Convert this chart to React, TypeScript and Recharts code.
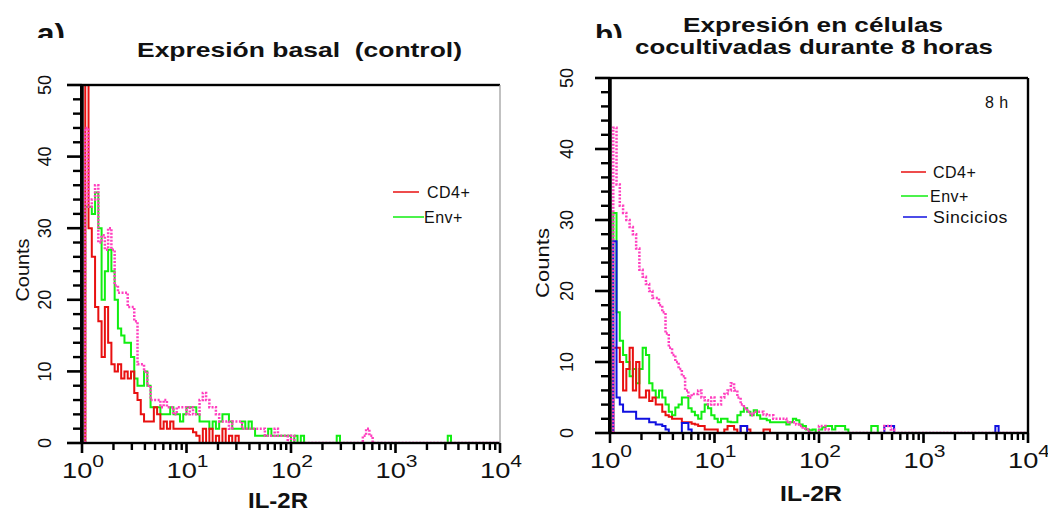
import React from "react";
import { LineChart, Line, XAxis, YAxis, ReferenceLine } from "recharts";

// flow cytometry histograms, 32 channels per decade, channel 0 = 10^0
const CH_PER_DECADE = 32;
const N_CH = 128;

// panel a) basal expression
const cd4A = [0, 50, 30, 26, 19, 17, 12, 19, 14, 11, 10, 11, 9, 10, 9, 10, 7, 6, 4, 3, 3, 3, 5, 4, 2, 3, 2, 3, 2, 2, 2, 2, 2, 2, 1.5, 1, 0, 2, 0, 2, 0, 1, 0, 2, 0, 1, 0, 1, 0];
const envA = [0, 33, 33, 32, 35, 30, 20, 24, 27, 24, 20, 16, 15, 14, 14, 12, 9, 8, 8, 10, 8, 5, 5, 5, 4, 4, 4, 5, 4, 4, 3, 4, 5, 5, 5, 4, 3, 3, 3, 2, 3, 2, 3, 4, 4, 3, 2, 2, 2, 3, 2, 3, 2, 1, 1, 1, 1, 2, 1, 1, 1, 1, 1, 1, 0, 1, 0, 1, 0];
const ctrlA = [0, 44, 33, 34, 36, 28, 29, 27, 30, 27, 22, 21, 21, 21, 19, 19, 17, 11, 11, 10, 8, 6, 6, 6, 5, 6, 5, 5, 4, 5, 5, 5, 4, 5, 4, 4, 6, 7, 6, 5, 5, 4, 3, 3, 3, 2, 3, 3, 3, 2, 2, 2, 2, 2, 2, 2, 1, 1, 1, 2, 1, 1, 1, 0, 1, 0];
const envATail = [[78, 1], [112, 1]];
const ctrlATail = [[86, 1], [87, 2], [88, 1]];

// panel b) 8 h co-culture
const cd4B = [0, 12, 12, 10, 6, 9, 12, 6, 10, 5, 5, 6, 4.5, 5, 4, 4, 3, 2.5, 2.3, 2, 2, 2, 1.5, 1.5, 1.5, 1.3, 1.2, 1, 1, 0.5, 0.5, 0.5, 0.5, 0, 0, 0.5, 1, 1, 0.5, 0, 1, 1, 0.5, 0, 0, 0, 0, 0.5, 0.5, 0];
const envB = [0, 31, 17, 13, 11, 10, 8, 9, 7, 9, 12, 11, 7, 6, 5, 6, 5, 4, 3, 2.5, 3.6, 4, 5, 5, 3.5, 3, 2.5, 2, 3, 4, 3.5, 2.5, 2, 1.5, 2, 2, 1.6, 1.5, 1.5, 2.5, 3, 3.5, 3, 2.5, 3.2, 2.5, 2, 2, 1.8, 1.5, 1.5, 1.5, 1.5, 1.5, 1.2, 1.5, 2, 1.8, 1.2, 1, 0.5, 0.4, 0.5, 0, 0.5, 0.8, 1, 1, 0.5, 1, 1, 1, 0.5];
const sincB = [0, 27, 5, 4, 3, 3, 3, 3, 2, 2, 2, 2, 1.5, 1.5, 1.2, 1.2, 1, 0.5, 0, 0, 0, 0, 1.4, 1.4, 0.5, 0];
const ctrlB = [0, 43, 35, 32, 31, 30, 29, 28, 26, 23, 22, 21, 20, 19, 19, 18, 17, 14, 12, 11, 10, 9, 8, 6, 5, 5.5, 5.5, 6, 5, 4.6, 4, 5, 4, 4, 5, 5.5, 6, 7, 6, 5, 4, 3.5, 3, 2.5, 3, 3, 3, 2.6, 2.5, 2.5, 2, 2, 2, 2, 1.6, 1.5, 1.5, 1.2, 1, 0.6, 0.5, 0, 0, 0, 1, 1, 0.5, 0];
const envBTail = [[80, 1], [81, 1]];
const sincBTail = [[40, 1], [41, 1], [84, 1], [85, 1], [86, 1], [118, 1]];
const ctrlBTail = [[84, 1], [85, 1], [86, 0.5]];

const Y_MAJOR = [0, 10, 20, 30, 40, 50];
const Y_MINOR = [2, 4, 6, 8, 12, 14, 16, 18, 22, 24, 26, 28, 32, 34, 36, 38, 42, 44, 46, 48];
const X_MAJOR = [1, 10, 100, 1000, 10000];
const X_MINOR = [1, 10, 100, 1000].flatMap((d) => [2, 3, 4, 5, 6, 7, 8, 9].map((m) => m * d));

const RED = "#e81010";
const GREEN = "#11ee11";
const BLUE = "#1010e0";
const PINK = "#ff3fbf";
const FONT = "'Liberation Sans', Arial, sans-serif";

// plot boxes in page pixels
const PLOT_A = { left: 82, right: 500, top: 85, bottom: 443 };
const PLOT_B = { left: 610, right: 1028, top: 78, bottom: 433 };

type Series = { key: string; counts: number[]; tail?: number[][] };

function buildRows(series: Series[]) {
  const rows: Record<string, number>[] = [];
  for (let ch = 0; ch <= N_CH; ch++) {
    const row: Record<string, number> = { x: Math.pow(10, ch / CH_PER_DECADE) };
    series.forEach((s) => {
      let v = s.counts[ch];
      if (v === undefined) {
        const hit = (s.tail || []).find((t) => t[0] === ch);
        v = hit ? hit[1] : 0;
      }
      row[s.key] = v;
    });
    rows.push(row);
  }
  return rows;
}

const dataA = buildRows([
  { key: "cd4", counts: cd4A },
  { key: "env", counts: envA, tail: envATail },
  { key: "ctrl", counts: ctrlA, tail: ctrlATail },
]);
const dataB = buildRows([
  { key: "cd4", counts: cd4B },
  { key: "env", counts: envB, tail: envBTail },
  { key: "sinc", counts: sincB, tail: sincBTail },
  { key: "ctrl", counts: ctrlB, tail: ctrlBTail },
]);

function XTick(props: any) {
  const { x, y, payload } = props;
  const e = Math.log10(payload.value);
  return (
    <text
      x={Number(x) + 1}
      y={Number(y) + 35}
      textAnchor="middle"
      fontSize={22}
      fontFamily={FONT}
      fill="#111"
      textLength={42}
      lengthAdjust="spacingAndGlyphs"
    >
      10
      <tspan dy={-11} fontSize={17}>{Math.round(e)}</tspan>
    </text>
  );
}

function YTick(props: any) {
  const { x, y, payload, off } = props;
  return (
    <text
      transform={`translate(${Number(x) - off},${y}) rotate(-90)`}
      textAnchor="middle"
      dominantBaseline="central"
      fontSize={18}
      fontFamily={FONT}
      fill="#111"
    >
      {payload.value}
    </text>
  );
}

// axis frame + tick marks as filled bars (same mapping as the log / linear axes)
function Frame({ box, rightColor }: { box: typeof PLOT_A; rightColor: string }) {
  const w = box.right - box.left;
  const h = box.bottom - box.top;
  const px = (v: number) => box.left + (w * Math.log10(v)) / 4;
  const py = (c: number) => box.bottom - (h * c) / 50;
  return (
    <g fill="#000">
      {X_MAJOR.map((v) => (
        <rect key={`xM${v}`} x={px(v) - 1.3} y={box.bottom} width={2.6} height={10} />
      ))}
      {X_MINOR.map((v) => (
        <rect key={`xm${v}`} x={px(v) - 1.2} y={box.bottom} width={2.4} height={7} />
      ))}
      {Y_MAJOR.map((v) => (
        <rect key={`yM${v}`} x={box.left - 15} y={py(v) - 1.3} width={15} height={2.6} />
      ))}
      {Y_MINOR.map((v) => (
        <rect key={`ym${v}`} x={box.left - 9} y={py(v) - 1.2} width={9} height={2.4} />
      ))}
      <rect x={box.left - 2} y={box.top - 1} width={3.5} height={h + 2} />
      <rect x={box.left} y={box.bottom - 1.2} width={w} height={2.4} />
      <rect x={box.left} y={box.top - 1.2} width={w} height={2.4} />
      <rect
        x={box.right - (rightColor === "#000" ? 1.2 : 0.6)}
        y={box.top}
        width={rightColor === "#000" ? 2.4 : 1.2}
        height={h}
        fill={rightColor}
      />
    </g>
  );
}

function Panel({ data, box, left, width, tickOff, withSinc }: any) {
  return (
    <div style={{ position: "absolute", left, top: 0 }}>
      <LineChart
        width={width}
        height={513}
        data={data}
        margin={{
          top: box.top,
          right: left + width - box.right,
          bottom: 513 - box.bottom - 70,
          left: box.left - left - 60,
        }}
      >
        <XAxis
          dataKey="x"
          type="number"
          scale="log"
          domain={[1, 10000]}
          allowDataOverflow
          ticks={X_MAJOR}
          interval={0}
          tickSize={0}
          tickMargin={0}
          tickLine={false}
          height={70}
          axisLine={{ stroke: "#000", strokeWidth: 2 }}
          tick={(p: any) => <XTick {...p} />}
        />
        <YAxis
          type="number"
          domain={[0, 50]}
          allowDataOverflow
          ticks={Y_MAJOR}
          interval={0}
          tickSize={0}
          tickMargin={0}
          tickLine={false}
          width={60}
          axisLine={{ stroke: "#000", strokeWidth: 3 }}
          tick={(p: any) => <YTick {...p} off={tickOff} />}
        />
        <ReferenceLine y={50} stroke="#000" strokeWidth={2} />
        <Line dataKey="env" type="stepAfter" stroke={GREEN} strokeWidth={2} dot={false} isAnimationActive={false} />
        <Line dataKey="cd4" type="stepAfter" stroke={RED} strokeWidth={2} dot={false} isAnimationActive={false} />
        {withSinc && (
          <Line dataKey="sinc" type="stepAfter" stroke={BLUE} strokeWidth={2} dot={false} isAnimationActive={false} />
        )}
        <Line
          dataKey="ctrl"
          type="stepAfter"
          stroke={PINK}
          strokeWidth={2.5}
          strokeDasharray="2 1.5"
          dot={false}
          isAnimationActive={false}
        />
      </LineChart>
    </div>
  );
}

export default function App() {
  const legend = { fontSize: 16, fontFamily: FONT, fill: "#111", letterSpacing: 0.5 } as const;
  const bold = { fontFamily: FONT, fontWeight: "bold", fill: "#111", lengthAdjust: "spacingAndGlyphs" } as const;
  return (
    <div style={{ position: "absolute", left: 0, top: 0, width: 1048, height: 513, background: "#fff", overflow: "hidden" }}>
      <Panel data={dataA} box={PLOT_A} left={0} width={545} tickOff={37} />
      <Panel data={dataB} box={PLOT_B} left={520} width={528} tickOff={43} withSinc />
      <svg width={1048} height={513} style={{ position: "absolute", left: 0, top: 0, pointerEvents: "none" }}>
        <defs>
          <clipPath id="labclip">
            <rect x={0} y={0} width={1048} height={38} />
          </clipPath>
        </defs>
        <Frame box={PLOT_A} rightColor="#999" />
        <Frame box={PLOT_B} rightColor="#000" />
        <g clipPath="url(#labclip)">
          <text x={37} y={43} fontSize={27} textLength={28} {...bold}>a)</text>
          <text x={595} y={44} fontSize={27} textLength={28} {...bold}>b)</text>
        </g>
        <text x={137} y={57} fontSize={21} textLength={325} style={{ whiteSpace: "pre" }} {...bold}>
          Expresión basal  (control)
        </text>
        <text x={683} y={32} fontSize={21} textLength={260} {...bold}>Expresión en células</text>
        <text x={635} y={54} fontSize={21} textLength={358} {...bold}>cocultivadas durante 8 horas</text>
        <text x={248} y={508} fontSize={22} textLength={60} {...bold}>IL-2R</text>
        <text x={780} y={501} fontSize={22} textLength={62} {...bold}>IL-2R</text>
        <g fontFamily={FONT} fontSize={19} fill="#111">
          <text transform="translate(22,270) rotate(-90)" dominantBaseline="central" textAnchor="middle" textLength={63} lengthAdjust="spacingAndGlyphs">
            Counts
          </text>
          <text transform="translate(542,263) rotate(-90)" dominantBaseline="central" textAnchor="middle" textLength={70} lengthAdjust="spacingAndGlyphs">
            Counts
          </text>
        </g>
        {/* legend a */}
        <line x1={393} x2={419} y1={192} y2={192} stroke={RED} strokeWidth={1.5} />
        <text x={427} y={198} {...legend}>CD4+</text>
        <line x1={393} x2={424} y1={217} y2={217} stroke={GREEN} strokeWidth={1.5} />
        <text x={424} y={223} {...legend}>Env+</text>
        {/* legend b */}
        <text x={985} y={108} {...legend}>8 h</text>
        <line x1={901} x2={926} y1={172} y2={172} stroke={RED} strokeWidth={1.5} />
        <text x={933} y={178} {...legend}>CD4+</text>
        <line x1={901} x2={928} y1={196} y2={196} stroke={GREEN} strokeWidth={1.5} />
        <text x={930} y={202} {...legend}>Env+</text>
        <line x1={903} x2={927} y1={217} y2={217} stroke={BLUE} strokeWidth={1.5} />
        <text x={933} y={223} textLength={75} lengthAdjust="spacingAndGlyphs" {...legend}>Sincicios</text>
      </svg>
    </div>
  );
}
